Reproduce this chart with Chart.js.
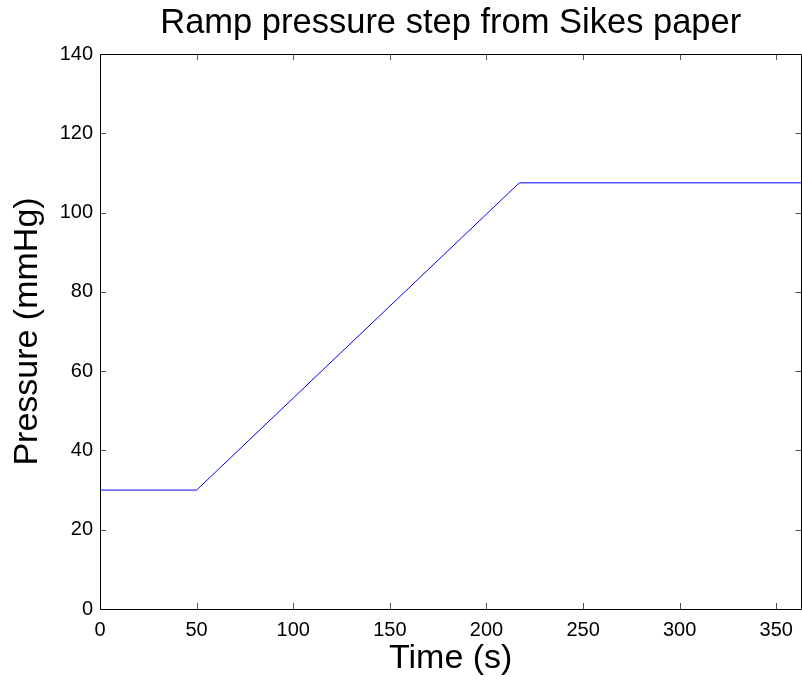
<!DOCTYPE html>
<html>
<head>
<meta charset="utf-8">
<script src="https://cdn.jsdelivr.net/npm/chart.js@4"></script>
<style>
  html, body { margin: 0; padding: 0; background: #fff; }
  #wrap { width: 802px; height: 684px; }
</style>
</head>
<body>
<div id="wrap"><canvas id="c" width="802" height="684"></canvas></div>
<script>
const timeValues = [0, 50, 217, 363];
const pressureValues = [30, 30, 107.5, 107.5];
const xTickStep = 50;
const yTickStep = 20;
const xRange = [0, 363];
const yRange = [0, 140];
const titleText = 'Ramp pressure step from Sikes paper';
const xLabel = 'Time (s)';
const yLabel = 'Pressure (mmHg)';

const FONT = "'Liberation Sans', Arial, Helvetica, sans-serif";

const boxTicks = {
  id: 'boxTicks',
  afterDraw(chart) {
    const ctx = chart.ctx;
    const a = chart.chartArea;
    const xs = chart.scales.x, ys = chart.scales.y;
    const L = 6;
    ctx.save();
    ctx.lineWidth = 1;
    ctx.strokeStyle = '#555';
    ctx.beginPath();
    xs.ticks.forEach(t => {
      const px = Math.round(xs.getPixelForValue(t.value)) + 0.5;
      ctx.moveTo(px, a.bottom); ctx.lineTo(px, a.bottom - L);
      ctx.moveTo(px, a.top); ctx.lineTo(px, a.top + L);
    });
    ys.ticks.forEach(t => {
      const py = Math.round(ys.getPixelForValue(t.value)) + 0.5;
      ctx.moveTo(a.left, py); ctx.lineTo(a.left + L, py);
      ctx.moveTo(a.right, py); ctx.lineTo(a.right - L, py);
    });
    ctx.stroke();
    ctx.strokeStyle = '#000';
    ctx.beginPath();
    ctx.rect(Math.round(a.left) + 0.5, Math.round(a.top) + 0.5,
             Math.round(a.right - a.left), Math.round(a.bottom - a.top));
    ctx.stroke();
    ctx.restore();
  }
};

new Chart(document.getElementById('c'), {
  type: 'line',
  data: {
    datasets: [{
      data: timeValues.map((t, i) => ({ x: t, y: pressureValues[i] })),
      borderColor: '#0000ff',
      borderWidth: 1,
      pointRadius: 0,
      tension: 0,
      fill: false
    }]
  },
  options: {
    responsive: false,
    animation: false,
    devicePixelRatio: 1,
    layout: { padding: 0 },
    plugins: {
      legend: { display: false },
      tooltip: { enabled: false },
      title: {
        display: true,
        text: titleText,
        fullSize: false,
        color: '#000',
        font: { family: FONT, size: 34.5, weight: 'normal', lineHeight: 1.2 },
        padding: { top: 3, bottom: 9.6 }
      }
    },
    scales: {
      x: {
        type: 'linear',
        min: xRange[0], max: xRange[1],
        afterFit(s) { s.height = 75; },
        grid: { display: false, drawTicks: false },
        border: { display: false },
        ticks: {
          stepSize: xTickStep,
          includeBounds: false,
          maxRotation: 0,
          autoSkip: false,
          color: '#000',
          padding: 9,
          font: { family: FONT, size: 20 }
        },
        title: {
          display: true, text: xLabel, color: '#000',
          font: { family: FONT, size: 34, lineHeight: 1.2 },
          padding: { top: 0, bottom: 5 }
        }
      },
      y: {
        type: 'linear',
        min: yRange[0], max: yRange[1],
        afterFit(s) { s.width = 100; },
        grid: { display: false, drawTicks: false },
        border: { display: false },
        ticks: {
          stepSize: yTickStep,
          autoSkip: false,
          color: '#000',
          padding: 7,
          font: { family: FONT, size: 20 }
        },
        title: {
          display: true, text: yLabel, color: '#000',
          font: { family: FONT, size: 34, lineHeight: 1.2 },
          padding: { top: 7, bottom: 0 }
        }
      }
    }
  },
  plugins: [boxTicks]
});
</script>
</body>
</html>
